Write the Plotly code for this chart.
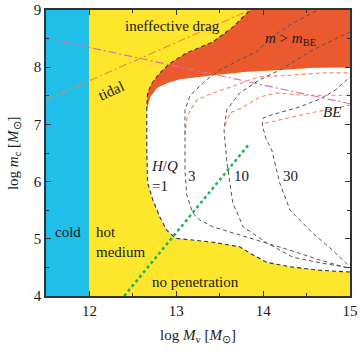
import plotly.graph_objects as go

# ---- data (log M_v, log m_c) ----
cold_x = [11.5, 12.0, 12.0, 11.5]
cold_y = [4.0, 4.0, 9.0, 9.0]
hot_x = [12.0, 15.0, 15.0, 12.0]
hot_y = [4.0, 4.0, 9.0, 9.0]

# H/Q = 1 lower/left boundary (top of vertical part -> right edge)
hq1_low_x = [12.66, 12.66, 12.67, 12.73, 12.81, 12.89, 12.99, 13.16, 13.42, 13.73, 13.88, 14.04, 14.31, 14.65, 15.0]
hq1_low_y = [7.30, 6.55, 5.98, 5.68, 5.38, 5.15, 5.01, 4.98, 4.94, 4.86, 4.72, 4.59, 4.51, 4.45, 4.42]
# H/Q = 1 upper branch (yellow / red boundary)
hq1_up_x = [12.66, 12.67, 12.72, 12.81, 12.93, 13.12, 13.42, 13.65, 13.85]
hq1_up_y = [7.30, 7.55, 7.72, 7.90, 8.07, 8.25, 8.44, 8.70, 9.0]
# m = m_BE boundary (red / white)
mbe_x = [12.66, 12.70, 12.78, 12.89, 13.04, 13.42, 13.81, 14.19, 14.57, 15.0]
mbe_y = [7.25, 7.48, 7.64, 7.72, 7.79, 7.86, 7.92, 7.95, 7.99, 8.0]

hq3_x = [14.97, 14.65, 14.31, 14.00, 13.73, 13.42, 13.27, 13.19, 13.12, 13.10, 13.10, 13.10, 13.16, 13.35, 13.50, 13.73, 13.93, 14.08, 14.31, 14.63]
hq3_y = [4.49, 4.63, 4.80, 4.94, 5.07, 5.21, 5.33, 5.45, 5.77, 6.20, 6.73, 7.25, 7.51, 7.78, 7.95, 8.13, 8.27, 8.51, 8.74, 9.0]
hq10_x = [14.97, 14.65, 14.34, 14.04, 13.77, 13.65, 13.62, 13.58, 13.55, 13.58, 13.73, 13.96, 14.19, 14.57, 14.88, 15.0]
hq10_y = [4.50, 4.58, 4.68, 4.93, 5.21, 5.63, 5.94, 6.38, 6.90, 7.25, 7.55, 7.78, 7.95, 8.30, 8.53, 8.62]
hq30_x = [14.97, 14.80, 14.57, 14.31, 14.19, 14.10, 14.03, 13.99, 14.00, 14.08, 14.39, 14.65, 14.83, 15.0]
hq30_y = [4.55, 4.80, 5.10, 5.50, 5.98, 6.55, 6.76, 6.99, 7.11, 7.16, 7.29, 7.44, 7.60, 7.83]

be1_x = [13.10, 13.12, 13.16, 13.24, 13.42, 13.62, 13.85, 13.96, 14.31, 14.69, 15.0]
be1_y = [6.81, 7.08, 7.25, 7.43, 7.55, 7.65, 7.78, 7.83, 7.86, 7.90, 7.90]
be2_x = [13.56, 13.62, 13.77, 13.96, 14.16, 14.46, 15.0]
be2_y = [6.99, 7.20, 7.30, 7.48, 7.55, 7.51, 7.51]
be3_x = [14.02, 14.27, 14.54, 14.85, 15.0]
be3_y = [7.02, 7.11, 7.20, 7.29, 7.34]

tidal1_x = [11.5, 15.0]
tidal1_y = [8.51, 7.36]
tidal2_x = [11.5, 13.85]
tidal2_y = [7.43, 9.0]

green_x = [12.40, 13.83]
green_y = [4.0, 6.64]

tick_vals = {"x": [12, 13, 14, 15], "y": [4, 5, 6, 7, 8, 9]}

CYAN = "#1fbfea"
YELLOW = "#fde62c"
RED = "#eb5a2f"
GRAY = "#555555"
SALMON = "#f08a6a"
PINK = "#e566a8"
ORANGE = "#ee8a3a"
GREEN = "#19b35a"
FONT = "Liberation Serif"
TXT = "#1a1a1a"

fig = go.Figure()

def fill(x, y, color):
    fig.add_trace(go.Scatter(x=x, y=y, fill="toself", fillcolor=color, mode="none",
                             hoverinfo="skip", showlegend=False))

fill(cold_x, cold_y, CYAN)
fill(hot_x, hot_y, YELLOW)
wx = mbe_x + [15.0] + hq1_low_x[::-1]
wy = mbe_y + [4.42] + hq1_low_y[::-1]
fill(wx, wy, "white")
rx = hq1_up_x + [15.0, 15.0] + mbe_x[::-1]
ry = hq1_up_y + [9.0, 8.0] + mbe_y[::-1]
fill(rx, ry, RED)

def line(x, y, color, dash, width=1.0):
    fig.add_trace(go.Scatter(x=x, y=y, mode="lines", line=dict(color=color, dash=dash, width=width),
                             hoverinfo="skip", showlegend=False))

for bx, by in [(be1_x, be1_y), (be2_x, be2_y), (be3_x, be3_y)]:
    line(bx, by, SALMON, "4px,3px", 1.1)
line(tidal1_x, tidal1_y, PINK, "8px,3px,2px,3px", 1.1)
line(tidal2_x, tidal2_y, ORANGE, "8px,3px,2px,3px", 1.1)
for hx, hy in [(hq3_x, hq3_y), (hq10_x, hq10_y), (hq30_x, hq30_y)]:
    line(hx, hy, GRAY, "4px,3px", 1.0)
line(hq1_low_x[::-1] + hq1_up_x[1:], hq1_low_y[::-1] + hq1_up_y[1:], "#333333", "4px,3px", 1.1)
line(green_x, green_y, GREEN, "dot", 2.5)

def ann(x, y, text, angle=0, xanchor="center", align="center", xref="x", yref="y", yanchor="middle"):
    fig.add_annotation(x=x, y=y, text=text, showarrow=False, textangle=angle,
                       xanchor=xanchor, yanchor=yanchor, align=align, xref=xref, yref=yref,
                       font=dict(family=FONT, size=15, color=TXT))

ann(12.96, 8.72, "ineffective drag")
ann(14.31, 8.49, "<i>m</i> > <i>m</i><sub>BE</sub>")
ann(12.25, 7.58, "tidal", angle=-25)
ann(14.79, 7.22, "<i>BE</i>")
ann(11.75, 5.12, "cold")
ann(12.05, 4.95, "hot<br>medium", xanchor="left", align="left")
ann(13.22, 4.24, "no penetration")
ann(12.69, 6.09, "<i>H</i>/<i>Q</i><br>=1", xanchor="left", align="left")
ann(13.18, 6.10, "3")
ann(13.75, 6.10, "10")
ann(14.31, 6.10, "30")
# axis titles
ann(0.5, -0.10, "log <i>M</i><sub>v</sub> [<i>M</i><sub>⊙</sub>]", xref="paper", yref="paper", yanchor="top")
ann(-0.105, 0.5, "log <i>m</i><sub>c</sub> [<i>M</i><sub>⊙</sub>]", angle=-90, xref="paper", yref="paper")

axis_common = dict(showgrid=False, zeroline=False, showline=True, linecolor="#333333", linewidth=1.5,
                   mirror="ticks", ticks="inside", ticklen=5, tickcolor="#333333", tickwidth=1.2,
                   automargin=False,
                   tickfont=dict(family=FONT, size=15, color=TXT),
                   minor=dict(dtick=0.5, ticks="inside", ticklen=3, tickcolor="#333333", tickwidth=1))

fig.update_xaxes(range=[11.5, 15], tickvals=tick_vals["x"], **axis_common)
fig.update_yaxes(range=[4, 9], tickvals=tick_vals["y"], **axis_common)

fig.update_layout(width=360, height=351, margin=dict(l=46, r=10, t=10, b=55),
                  paper_bgcolor="white", plot_bgcolor="white")

fig.write_html("out.html", config={"displayModeBar": False},
               post_script="document.body.style.margin='0';document.body.style.padding='0';")
